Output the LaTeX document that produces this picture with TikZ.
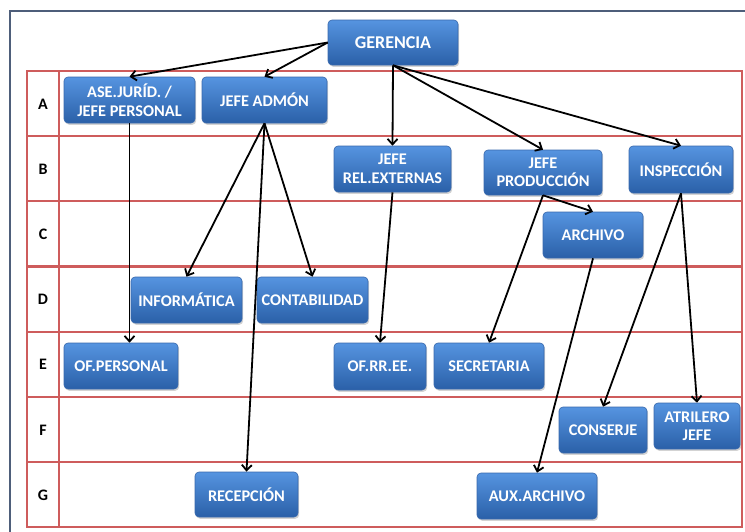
\documentclass[tikz,border=0pt]{standalone}
\usepackage{fontspec}
\setmainfont{Carlito}
\usetikzlibrary{arrows.meta,shadows,calc}

\definecolor{boxtop}{RGB}{86,148,224}
\definecolor{boxbot}{RGB}{42,96,168}
\definecolor{boxline}{RGB}{56,104,172}
\definecolor{gridred}{RGB}{206,92,92}
\definecolor{frameblue}{RGB}{78,94,122}

\tikzset{
  unit/.style={
    rounded corners=4pt, draw=boxline, line width=0.6pt,
    top color=boxtop, bottom color=boxbot,
    text=white, font=\fontsize{16.3}{18.5}\selectfont\bfseries,
    align=center, inner sep=2pt,
    drop shadow={opacity=0.35, shadow xshift=1.2pt, shadow yshift=-1.8pt}
  },
  rowlabel/.style={font=\fontsize{16}{18}\selectfont\bfseries, text=black},
  link/.style={line width=1.8pt, -{Straight Barb[length=5.5pt,width=10pt,line width=1.8pt]}},
  gridline/.style={draw=gridred, line width=1.5pt},
}

\begin{document}
\begin{tikzpicture}[x=1pt,y=-1pt]
\useasboundingbox (0,0) rectangle (745,531);
\clip (0,0) rectangle (745,531);

% outer frame (runs past the right and bottom edges)
\draw[frameblue, line width=1.8pt] (760,11) -- (10,11) -- (10,560);

% level grid
\foreach \t in {71,136,201,267,332,397,462} {
  \draw[gridline] (27,\t) rectangle (742,\t+65);
}
\draw[gridline] (59,71) -- (59,527);

% level letters
\foreach \l/\y in {A/104,B/169,C/234,D/299,E/364,F/430,G/495} {
  \node[rowlabel] (lab\l) at (43,\y) {\l};
}

% units
\node[unit, minimum width=130pt, minimum height=45pt, font=\fontsize{18}{20}\selectfont\bfseries] (ger) at (393,42.5) {GERENCIA};
\node[unit, minimum width=131pt, minimum height=46pt] (ase) at (129.5,100) {ASE.JURÍD. /\\JEFE PERSONAL};
\node[unit, minimum width=125pt, minimum height=46pt] (adm) at (264.5,100) {JEFE ADMÓN};
\node[unit, minimum width=117pt, minimum height=46pt] (rel) at (392.5,169) {JEFE\\REL.EXTERNAS};
\node[unit, minimum width=118pt, minimum height=45pt] (pro) at (543,172.5) {JEFE\\PRODUCCIÓN};
\node[unit, minimum width=104pt, minimum height=47pt] (ins) at (681,169.5) {INSPECCIÓN};
\node[unit, minimum width=100pt, minimum height=46pt] (arc) at (593,235) {ARCHIVO};
\node[unit, minimum width=111pt, minimum height=46pt] (inf) at (186.5,300) {INFORMÁTICA};
\node[unit, minimum width=111pt, minimum height=46pt] (con) at (312.5,300) {CONTABILIDAD};
\node[unit, minimum width=114pt, minimum height=46pt] (ofp) at (121,366) {OF.PERSONAL};
\node[unit, minimum width=92pt, minimum height=47pt] (ofr) at (380,366.5) {OF.RR.EE.};
\node[unit, minimum width=110pt, minimum height=46pt] (sec) at (489,366) {SECRETARIA};
\node[unit, minimum width=88pt, minimum height=46pt] (cns) at (603,430) {CONSERJE};
\node[unit, minimum width=86pt, minimum height=46pt] (atr) at (697,426) {ATRILERO\\JEFE};
\node[unit, minimum width=103pt, minimum height=45pt] (rec) at (246.5,494.5) {RECEPCIÓN};
\node[unit, minimum width=120pt, minimum height=46pt] (aux) at (537,496) {AUX.ARCHIVO};

% reporting lines
\draw[link] (ger.west) -- (ase.north);
\draw[link] (ger.west) -- (adm.north);
\draw[link] (ger.south) -- (rel.north);
\draw[link] (ger.south) -- (pro.north);
\draw[link] (ger.south) -- (ins.north);
\draw[link] (ase.south) -- (ase.south |- ofp.north);
\draw[link] (adm.south) -- (inf.north);
\draw[link] (adm.south) -- (con.north);
\draw[link] (adm.south) -- (rec.north);
\draw[link] (rel.south) -- (ofr.north);
\draw[link] (pro.south) -- (arc.north);
\draw[link] (pro.south) -- (sec.north);
\draw[link] (arc.south) -- (aux.north);
\draw[link] (ins.south) -- (cns.north);
\draw[link] (ins.south) -- (atr.north);
\end{tikzpicture}
\end{document}
